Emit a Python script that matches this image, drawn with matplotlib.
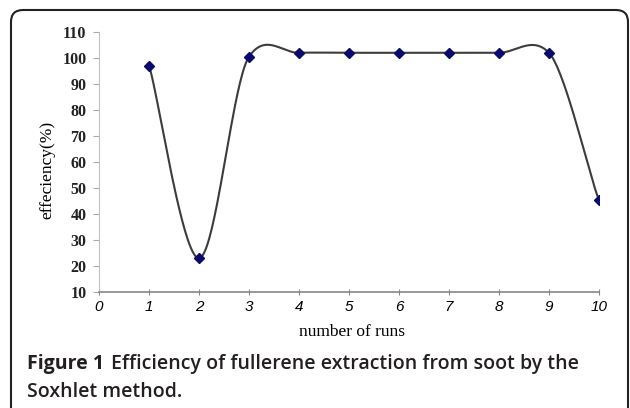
import numpy as np
import matplotlib.pyplot as plt
from matplotlib.patches import FancyBboxPatch
from matplotlib.transforms import IdentityTransform

runs = [1, 2, 3, 4, 5, 6, 7, 8, 9, 10]
efficiency = [97, 23, 100.5, 102, 102, 102, 102, 102, 102, 45.5]
x_ticks = [0, 1, 2, 3, 4, 5, 6, 7, 8, 9, 10]
y_ticks = [10, 20, 30, 40, 50, 60, 70, 80, 90, 100, 110]


def smooth(x, y, k=0.72, n=40):
    # smoothed line through the points (cardinal spline, tangents scaled by k)
    x = np.asarray(x, float)
    y = np.asarray(y, float)
    px = np.concatenate([[x[0]], x, [x[-1]]])
    py = np.concatenate([[y[0]], y, [y[-1]]])
    xs, ys = [], []
    t = np.linspace(0, 1, n)
    for i in range(1, len(px) - 2):
        p0, p1, p2, p3 = px[i-1], px[i], px[i+1], px[i+2]
        q0, q1, q2, q3 = py[i-1], py[i], py[i+1], py[i+2]
        mx1, mx2 = (p2 - p0) / 2, (p3 - p1) / 2
        my1, my2 = k * (q2 - q0) / 2, k * (q3 - q1) / 2
        h00 = 2*t**3 - 3*t**2 + 1
        h10 = t**3 - 2*t**2 + t
        h01 = -2*t**3 + 3*t**2
        h11 = t**3 - t**2
        xs.append(h00*p1 + h10*mx1 + h01*p2 + h11*mx2)
        ys.append(h00*q1 + h10*my1 + h01*q2 + h11*my2)
    return np.concatenate(xs), np.concatenate(ys)


fig = plt.figure(figsize=(6.3, 4.08), dpi=100)
ax = fig.add_axes([99/630, 1-292/408, 500/630, 260/408])

sx, sy = smooth(runs, efficiency)
ax.plot(sx, sy, color="#3c3c3c", lw=1.5, zorder=2)
ax.plot(runs, efficiency, ls="none", marker="D", ms=5.5, color="#0a0a6e", zorder=3)

ax.set_xlim(0, 10)
ax.set_ylim(10, 110)
ax.set_xticks(x_ticks)
ax.set_yticks(y_ticks)
ax.set_xticklabels([str(v) for v in x_ticks], family="Liberation Sans", style="italic", fontsize=11)
ax.set_yticklabels([str(v) for v in y_ticks], family="Liberation Serif", weight="bold", fontsize=11.5, color="#222222")
ax.tick_params(axis="x", direction="inout", length=5, color="#888888", pad=3)
ax.tick_params(axis="y", direction="out", length=4, color="#aaaaaa", pad=5)
for s in ["top", "right"]:
    ax.spines[s].set_visible(False)
ax.spines["left"].set_color("#c0c0c0")
ax.spines["bottom"].set_color("#888888")
ax.spines["bottom"].set_linewidth(1.2)

ax.set_xlabel("number of runs", family="Liberation Serif", fontsize=12.5, va="top")
ax.xaxis.set_label_coords(0.506, -0.125)
ax.set_ylabel("effeciency(%)", family="Liberation Serif", fontsize=12.5)
ax.yaxis.set_label_coords(-0.088, 0.47)

# frame around the figure
frame = FancyBboxPatch((11, -30), 617, 428, boxstyle="round,pad=0,rounding_size=12",
                       transform=IdentityTransform(), fill=False, ec="#222222", lw=1.5)
fig.patches.append(frame)

cap = dict(family="Open Sans", fontsize=14, color="#231f20", va="center")
fig.text(27/630, 1-364/408, "Figure 1", weight="bold", **cap)
fig.text(111/630, 1-364/408, "Efficiency of fullerene extraction from soot by the",
         weight="semibold", **cap)
fig.text(27/630, 1-392/408, "Soxhlet method.", weight="semibold", **cap)

plt.savefig("out.png", dpi=100)
